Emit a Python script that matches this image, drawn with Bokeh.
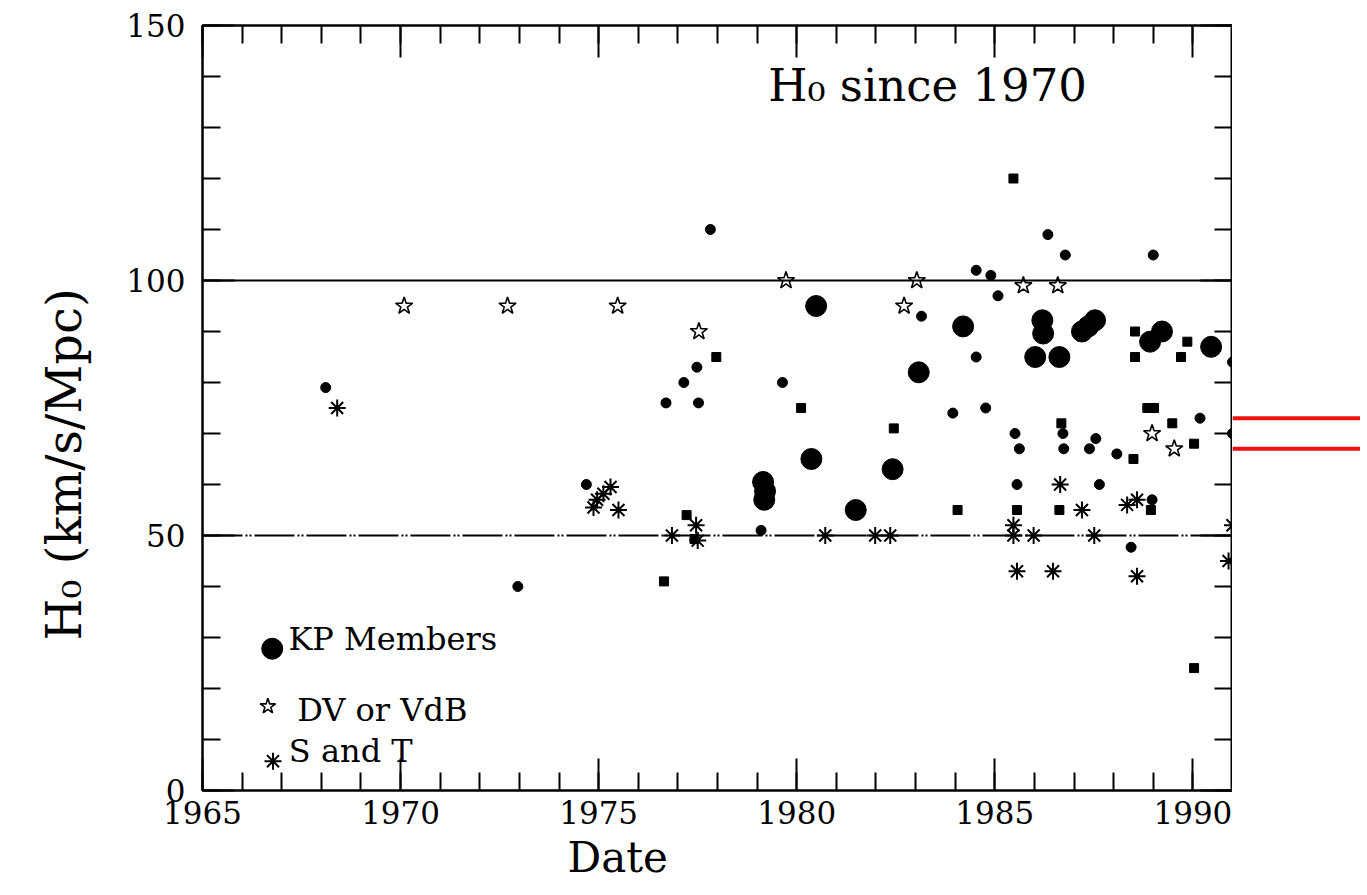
from bokeh.plotting import figure
from bokeh.models import (SingleIntervalTicker, LinearAxis, Range1d, Label, Span, Title,
                          CustomJSTickFormatter)
from bokeh.layouts import row
from bokeh.embed import file_html
from bokeh.resources import INLINE
from bokeh.core.properties import value

FONT = "DejaVu Serif"

# ---- data ----
# KP Members (large filled circles)
kp_year = [1979.15, 1979.2, 1979.18, 1980.49, 1980.37, 1981.49, 1982.42, 1983.08,
           1984.2, 1986.2, 1986.22, 1986.02, 1986.63, 1987.2, 1987.36, 1987.53,
           1988.92, 1989.22, 1990.46]
kp_h0 = [60.5, 58.7, 57.0, 95.0, 65.0, 55.0, 63.0, 82.0,
         91.0, 92.2, 89.6, 85.0, 85.0, 90.0, 91.0, 92.2,
         88.0, 90.0, 87.0]

# other determinations: small filled circles
dot_year = [1968.11, 1972.96, 1974.69, 1976.7, 1977.15, 1977.48, 1977.52, 1977.82,
            1979.1, 1979.64, 1983.15, 1983.94, 1984.53, 1984.53, 1984.77, 1984.9,
            1985.08, 1986.34, 1986.78, 1989.0, 1985.51, 1985.62, 1986.72, 1986.74,
            1987.55, 1987.39, 1988.08, 1990.18, 1985.56, 1987.64, 1988.97, 1988.44,
            1991.0, 1991.0]
dot_h0 = [79, 40, 60, 76, 80, 83, 76, 110,
          51, 80, 93, 74, 102, 85, 75, 101,
          97, 109, 105, 105, 70, 67, 70, 67,
          69, 67, 66, 73, 60, 60, 57, 47.7,
          70, 84]

# other determinations: small filled squares
sq_year = [1976.65, 1977.22, 1977.42, 1977.97, 1980.11, 1982.45, 1984.06, 1985.47,
           1985.56, 1986.63, 1986.68, 1988.5, 1988.85, 1989.02, 1989.48, 1990.03,
           1988.94, 1990.03, 1988.54, 1988.54, 1989.86, 1989.7]
sq_h0 = [41, 54, 49.3, 85, 75, 71, 55, 120,
         55, 55, 72, 65, 75, 75, 72, 68,
         55, 24, 90, 85, 88, 85]

# DV or VdB (open stars)
dv_year = [1970.09, 1972.7, 1975.48, 1977.53, 1979.73, 1982.71, 1983.03, 1985.72,
           1986.59, 1988.97, 1989.53]
dv_h0 = [95, 95, 95, 90, 100, 95, 100, 99, 99, 70, 67]

# S and T (asterisks)
st_year = [1968.4, 1974.87, 1974.96, 1975.12, 1975.3, 1975.5, 1976.85, 1977.46,
           1977.5, 1980.72, 1981.98, 1982.36, 1985.47, 1985.47, 1985.98, 1985.56,
           1986.47, 1986.65, 1987.2, 1987.51, 1988.34, 1988.59, 1988.59, 1991.0,
           1990.9]
st_h0 = [75, 55.5, 57, 58.2, 59.5, 55, 50, 52,
         49, 50, 50, 50, 52, 50, 50, 43,
         43, 60, 55, 50, 56, 57, 42, 52,
         45]

# reference levels
line_solid_h0 = 100
line_dashed_h0 = 50
modern_h0 = [73, 67]

# axes
x_start, x_end = 1965, 1991
y_start, y_end = 0, 150
x_major_step, y_major_step = 5, 50
x_title = "Date"
y_title = "H\u2080 (km/s/Mpc)"

# annotations
title_text = "H\u2080 since 1970"
title_pos = (1979.28, 138.3)
legend_labels = ["KP Members", "DV or VdB", "S and T"]
legend_text_year = [1967.17, 1967.39, 1967.18]
legend_text_h0 = [29.8, 15.75, 7.7]
legend_key_year = [1966.76, 1966.65, 1966.78]
legend_key_h0 = [27.8, 16.5, 5.75]

# ---- figure ----
p = figure(x_range=Range1d(x_start, x_end), y_range=Range1d(y_start, y_end),
           frame_width=1030, frame_height=765,
           min_border_left=202, min_border_right=0, min_border_top=25, min_border_bottom=105,
           output_backend="svg", toolbar_location=None,
           background_fill_color="white", border_fill_color="white")
p.grid.visible = False
p.outline_line_color = "black"
p.outline_line_width = 2

bottom_axis = p.below[0]
left_axis = p.left[0]
bottom_axis.ticker = SingleIntervalTicker(interval=x_major_step, num_minor_ticks=5)
left_axis.ticker = SingleIntervalTicker(interval=y_major_step, num_minor_ticks=5)

top_axis = LinearAxis(ticker=SingleIntervalTicker(interval=x_major_step, num_minor_ticks=5),
                      formatter=CustomJSTickFormatter(code="return ''"))
right_axis = LinearAxis(ticker=SingleIntervalTicker(interval=y_major_step, num_minor_ticks=5),
                        formatter=CustomJSTickFormatter(code="return ''"))
p.add_layout(top_axis, "above")
p.add_layout(right_axis, "right")

for ax in (bottom_axis, left_axis, top_axis, right_axis):
    ax.axis_line_width = 2
    ax.axis_line_color = "black"
    ax.major_tick_line_width = 2
    ax.minor_tick_line_width = 2
    ax.major_tick_line_color = "black"
    ax.minor_tick_line_color = "black"
    ax.major_tick_in = 32
    ax.major_tick_out = 0
    ax.minor_tick_in = 18
    ax.minor_tick_out = 0
    ax.major_label_text_font = FONT
    ax.major_label_text_font_size = "31px"
    ax.major_label_text_color = "black"

for ax in (top_axis, right_axis):
    ax.major_label_standoff = 0

bottom_axis.major_label_standoff = 10
left_axis.major_label_standoff = 17

# axis titles, placed off-centre as in the reference
p.add_layout(Title(text=x_title, text_font=FONT, text_font_size="42px", text_color="black",
                   text_font_style="normal", align="left", offset=365, standoff=8), "below")
p.add_layout(Title(text=y_title, text_font=FONT, text_font_size="48px", text_color="black",
                   text_font_style="normal", align="left", offset=150, standoff=60,
                   vertical_align="top"), "left")

p.add_layout(Span(location=line_solid_h0, dimension="width", line_color="black", line_width=2))
p.add_layout(Span(location=line_dashed_h0, dimension="width", line_color="black", line_width=2,
                  line_dash="40 3 2 2 2 3"))

p.scatter(sq_year, sq_h0, marker="square", size=9, color="black")
p.scatter(dot_year, dot_h0, marker="circle", size=10, color="black")
p.scatter(kp_year, kp_h0, marker="circle", size=21, color="black")
p.scatter(dv_year, dv_h0, marker="star", size=18, fill_color=None, line_color="black", line_width=1.6)
p.scatter(st_year, st_h0, marker="asterisk", size=17, line_color="black", line_width=2)

p.add_layout(Label(x=title_pos[0], y=title_pos[1], text=title_text, text_font=FONT,
                   text_font_size="45px", text_color="black", text_baseline="alphabetic"))

p.scatter(legend_key_year[0:1], legend_key_h0[0:1], marker="circle", size=21, color="black")
p.scatter(legend_key_year[1:2], legend_key_h0[1:2], marker="star", size=16, fill_color=None,
          line_color="black", line_width=1.6)
p.scatter(legend_key_year[2:3], legend_key_h0[2:3], marker="asterisk", size=17,
          line_color="black", line_width=2)
p.text(x=legend_text_year, y=legend_text_h0, text=legend_labels, text_font=value(FONT),
       text_font_size=value("32px"), text_color="black", text_baseline="alphabetic",
       text_align="left")

# strip to the right carrying the two modern values
p2 = figure(x_range=Range1d(0, 1), y_range=p.y_range, frame_width=128, frame_height=765,
            min_border_left=0, min_border_right=0, min_border_top=25, min_border_bottom=105,
            output_backend="svg", toolbar_location=None,
            x_axis_location=None, y_axis_location=None,
            background_fill_color="white", border_fill_color="white")
p2.outline_line_color = None
p2.grid.visible = False
for v in modern_h0:
    p2.add_layout(Span(location=v, dimension="width", line_color="#ee1111", line_width=4))

layout = row(p, p2)
open("out.html", "w").write(file_html(layout, INLINE))
